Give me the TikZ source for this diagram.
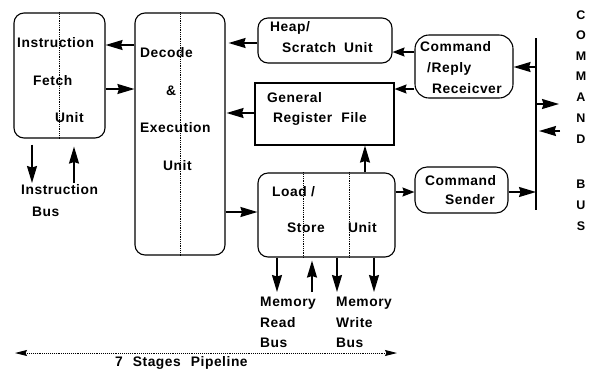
\documentclass[tikz,border=0pt]{standalone}
\usepackage{fontspec}
\setmainfont{Liberation Sans}[LetterSpace=4]
\usetikzlibrary{arrows.meta}

\begin{document}
\begin{tikzpicture}[x=1pt,y=-1pt,
  box/.style={draw, line width=1.1pt, rounded corners=10pt, inner sep=0pt},
  lbl/.style={anchor=west, inner sep=0pt, font=\fontsize{13.8}{16}\selectfont\bfseries},
  ltr/.style={anchor=center, inner sep=0pt, font=\fontsize{12.5}{15}\selectfont\bfseries},
  arr/.style={line width=1.6pt, -{Stealth[length=17pt,width=10pt,inset=1.5pt]}},
  sarr/.style={line width=1.6pt, -{Stealth[length=12pt,width=9pt,inset=1.5pt]}},
  sep/.style={densely dotted, line width=0.8pt}]

\useasboundingbox (0,0) rectangle (593,376);

% ---- functional units ----
\node[box, minimum width=91pt, minimum height=125pt] (fetch) at (59.5,75.5) {};
\node[box, minimum width=90pt, minimum height=242pt] (decode) at (180,134) {};
\node[box, minimum width=134pt, minimum height=45pt] (heap) at (325,40.5) {};
\node[draw, line width=1.1pt, inner sep=0pt, minimum width=139pt, minimum height=62pt] (grf) at (324.5,114) {};
\node[box, rounded corners=14pt, minimum width=98pt, minimum height=63pt] (recv) at (464,66.5) {};
\node[box, minimum width=137pt, minimum height=84pt] (ls) at (326.5,215) {};
\node[box, rounded corners=12pt, minimum width=93pt, minimum height=46pt] (send) at (461.5,190) {};

% stage separators
\draw[sep] (fetch.north) -- (fetch.south);
\draw[sep] (decode.north) -- (decode.south);
\draw[sep] (ls.north -| 303,0) -- (ls.south -| 303,0);
\draw[sep] (ls.north -| 349,0) -- (ls.south -| 349,0);

% ---- unit labels ----
\node[lbl] (t1) at (17,43) {Instruction};
\node[lbl] (t2) at (33,81) {Fetch};
\node[lbl] (t3) at (55,118) {Unit};
\node[lbl] (t4) at (140,53) {Decode};
\node[lbl] (t5) at (166,91) {\&};
\node[lbl] (t6) at (140,128) {Execution};
\node[lbl] (t7) at (163,166) {Unit};
\node[lbl] (t8) at (270,28) {Heap/};
\node[lbl] (t9) at (282,48) {Scratch\hspace{8pt}Unit};
\node[lbl] (t10) at (267,98) {General};
\node[lbl] (t11) at (273,119) {Register\hspace{9pt}File};
\node[lbl] (t12) at (420,47) {Command};
\node[lbl] (t13) at (427,69) {/Reply};
\node[lbl] (t14) at (432,89) {Receicver};
\node[lbl] (t15) at (272,192) {Load /};
\node[lbl] (t16) at (287,228) {Store};
\node[lbl] (t17) at (348,228) {Unit};
\node[lbl] (t18) at (425,181) {Command};
\node[lbl] (t19) at (445,200) {Sender};

% ---- external bus labels ----
\node[lbl] (ib1) at (21,190) {Instruction};
\node[lbl] (ib2) at (32,212) {Bus};
\node[lbl] (mr1) at (260,303) {Memory};
\node[lbl] (mr2) at (260,323) {Read};
\node[lbl] (mr3) at (260,343) {Bus};
\node[lbl] (mw1) at (336,303) {Memory};
\node[lbl] (mw2) at (336,323) {Write};
\node[lbl] (mw3) at (336,343) {Bus};
\node[lbl] (pipe) at (115,363) {7\hspace{10pt}Stages\hspace{10pt}Pipeline};

% vertical COMMAND BUS caption
\foreach \ch/\yy [count=\i] in {C/15,O/35,M/56,M/76,A/97,N/118,D/139,B/184,U/205,S/226}
  \node[ltr] (cb\i) at (581,\yy) {\ch};

% ---- command bus ----
\coordinate (bustop) at (536,38);
\coordinate (busbot) at (536,210);
\draw[line width=1.6pt] (bustop) -- (busbot);
\coordinate (busout) at (563,104);
\coordinate (busin) at (563,131);

% ---- connectors ----
\draw[arr] (decode.west |- 0,45) -- (fetch.east |- 0,45);
\draw[arr] (fetch.east |- 0,89) -- (decode.west |- 0,89);
\draw[arr, shorten >=3pt] (heap.west |- 0,43) -- (decode.east |- 0,43);
\draw[arr, shorten >=1pt] (grf.west |- 0,113) -- (decode.east |- 0,113);
\draw[sarr] (recv.west |- 0,52) -- (heap.east |- 0,52);
\draw[sarr] (recv.west |- 0,89) -- (grf.east |- 0,89);
\draw[arr] (bustop |- 0,67) -- (recv.east |- 0,67);
\draw[arr] (decode.east |- 0,212) -- (ls.west |- 0,212);
\draw[arr] (ls.north -| 365,0) -- (grf.south -| 365,0);
\draw[sarr] (ls.east |- 0,192) -- (send.west |- 0,192);
\draw[arr] (send.east |- 0,192) -- (bustop |- 0,192);
\draw[arr, shorten >=4pt] (bustop |- busout) -- (busout);
\draw[arr, shorten >=3pt, shorten <=3pt] (busin) -- (bustop |- busin);

% instruction bus
\coordinate (ibd) at (32,183);
\coordinate (ibu) at (74,183);
\draw[arr, shorten <=6pt] (fetch.south -| ibd) -- (ibd);
\draw[arr, shorten >=8pt] (ibu) -- (fetch.south -| ibu);

% memory buses
\coordinate (m1) at (277,292);
\coordinate (m2) at (312,292);
\coordinate (m3) at (337,292);
\coordinate (m4) at (374,292);
\draw[arr] (ls.south -| m1) -- (m1);
\draw[arr, shorten >=3pt] (m2) -- (ls.south -| m2);
\draw[arr] (ls.south -| m3) -- (m3);
\draw[arr] (ls.south -| m4) -- (m4);

% pipeline extent
\coordinate (pl) at (15,353);
\coordinate (pr) at (397,353);
\draw[densely dotted, line width=0.9pt, {Stealth[length=12pt,width=6pt,inset=1.5pt]}-{Stealth[length=12pt,width=6pt,inset=1.5pt]}] (pl) -- (pr);

\end{tikzpicture}
\end{document}
